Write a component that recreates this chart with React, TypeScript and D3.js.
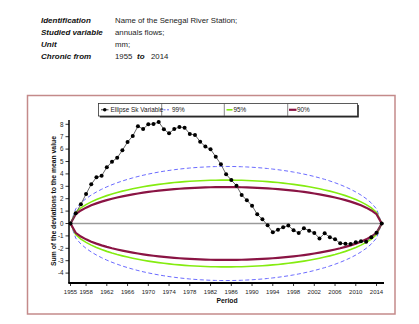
import React from "react";
import * as d3 from "d3";

const headerLabels = ["Identification", "Studied variable", "Unit", "Chronic from"];
const headerValues = ["Name of the Senegal River Station;", "annuals flows;", "mm;"];
const chronicStart = "1955";
const chronicEnd = "2014";

const years = d3.range(1955, 2016);
const cumDev = [
  0, 0.82, 1.55, 2.38, 3.16, 3.73, 3.85, 4.53, 4.98, 5.3,
  5.9, 6.57, 7.06, 7.84, 7.62, 8.0, 8.02, 8.19, 7.6, 7.27,
  7.62, 7.78, 7.73, 7.22, 7.14, 6.6, 6.2, 5.98, 5.39, 4.77,
  3.97, 3.5, 3.05, 2.3, 1.87, 1.44, 0.74, 0.34, -0.15, -0.71,
  -0.5, -0.31, -0.17, -0.55, -0.77, -0.38, -0.58, -0.76, -1.2, -0.79,
  -1.11, -1.27, -1.6, -1.63, -1.65, -1.52, -1.44, -1.47, -1.11, -0.74,
  0,
];

// Bois ellipse parameters
const ellipseLevels = ["99%", "95%", "90%"];
const ellipseZ = [2.576, 1.96, 1.645];
const ellipseSigma = 1.786;
const ellipseColors = ["#6b6bff", "#84ec10", "#8a1444"];

const xTickYears = [1955, 1958, 1962, 1966, 1970, 1974, 1978, 1982, 1986, 1990, 1994, 1998, 2002, 2006, 2010, 2014];
const yTicks = [8, 7, 6, 5, 4, 3, 2, 1, 0, -1, -2, -3, -4];

const FONT = "'Liberation Sans', Arial, sans-serif";

export default function App() {
  const x = d3.scaleLinear().domain([1954.71, 2015.44]).range([69, 384]);
  const y = d3.scaleLinear().domain([0, 8]).range([223.5, 124.3]);
  const yTop = 120;
  const yBottom = 283;

  const n = years.length - 1;
  const line = d3
    .line<[number, number]>()
    .x((d) => x(d[0]))
    .y((d) => y(d[1]));

  const mainPts: [number, number][] = years.map((yr, i) => [yr, cumDev[i]]);

  const ellipse = (z: number, sign: number): [number, number][] =>
    years.map((yr, k) => [yr, (sign * z * ellipseSigma * Math.sqrt(k * (n - k))) / (n / 2)]);

  const dashes = ["4,2.5", null, null];
  const widths = [1, 1.6, 2.2];

  const legendItems = [
    { x0: 101, x1: 108.5, tx: 110.5, label: "Ellipse Sk Variable" },
    { x0: 163.5, x1: 170.5, tx: 172, label: ellipseLevels[0] },
    { x0: 226.5, x1: 232.5, tx: 233.5, label: ellipseLevels[1] },
    { x0: 289, x1: 296.5, tx: 297, label: ellipseLevels[2] },
  ];
  const dividers = [161.7, 224.3, 287.7];

  return (
    <svg
      width={419}
      height={324}
      style={{ position: "absolute", left: 0, top: 0, background: "#fff" }}
      fontFamily={FONT}
    >
      <rect x={0} y={0} width={419} height={324} fill="#fff" />
      {/* header */}
      {headerLabels.map((t, i) => (
        <text
          key={t}
          x={41}
          y={[22.5, 35, 46.5, 59][i]}
          fontSize={8}
          fontWeight="bold"
          fontStyle="italic"
          fill="#111"
        >
          {t}
        </text>
      ))}
      {headerValues.map((t, i) => (
        <text key={t} x={115} y={[22.5, 35, 46.5][i]} fontSize={7.8} fill="#222">
          {t}
        </text>
      ))}
      <text x={115} y={59} fontSize={7.8} fill="#222">
        {chronicStart}
      </text>
      <text x={137} y={59} fontSize={8} fontWeight="bold" fontStyle="italic" fill="#111">
        to
      </text>
      <text x={151} y={59} fontSize={7.8} fill="#222">
        {chronicEnd}
      </text>

      {/* chart frame */}
      <rect x={27.5} y={95.5} width={367.5} height={218.5} fill="#fff" stroke="#c48a8a" strokeWidth={1.5} />

      {/* zero line */}
      <line x1={69} x2={384} y1={y(0)} y2={y(0)} stroke="#9a9a9a" strokeWidth={1.5} />

      {/* ellipses */}
      {ellipseZ.map((z, i) =>
        [1, -1].map((s) => (
          <path
            key={`${i}-${s}`}
            d={line(ellipse(z, s)) || ""}
            fill="none"
            stroke={ellipseColors[i]}
            strokeWidth={widths[i]}
            strokeDasharray={dashes[i] || undefined}
          />
        ))
      )}

      {/* main series */}
      <path d={line(mainPts) || ""} fill="none" stroke="#555" strokeWidth={0.9} />
      {mainPts.map((p, i) => (
        <circle key={i} cx={x(p[0])} cy={y(p[1])} r={2} fill="#000" />
      ))}

      {/* axes */}
      <line x1={69} x2={69} y1={yTop} y2={yBottom} stroke="#000" strokeWidth={1.5} />
      <line x1={68.3} x2={384} y1={yBottom} y2={yBottom} stroke="#000" strokeWidth={1.8} />
      {yTicks.map((t) => (
        <g key={t}>
          <line x1={65.5} x2={69} y1={y(t)} y2={y(t)} stroke="#000" strokeWidth={0.8} />
          <text x={63.5} y={y(t) + 2.2} fontSize={6.3} textAnchor="end" fill="#222">
            {t}
          </text>
        </g>
      ))}
      {xTickYears.map((t) => (
        <g key={t}>
          <line x1={x(t)} x2={x(t)} y1={yBottom} y2={yBottom + 3} stroke="#000" strokeWidth={0.8} />
          <text x={x(t)} y={294} fontSize={6} textAnchor="middle" fill="#222">
            {t}
          </text>
        </g>
      ))}
      <text x={227} y={303} fontSize={6.8} fontWeight="bold" textAnchor="middle" fill="#111">
        Period
      </text>
      <text
        transform={`translate(55.5, 201) rotate(-90)`}
        fontSize={6.8}
        fontWeight="bold"
        textAnchor="middle"
        fill="#111"
      >
        Sum of the deviations to the mean value
      </text>

      {/* legend */}
      <rect x={99.8} y={105} width={259} height={12.5} fill="#222" />
      <rect x={98.5} y={103.5} width={259} height={12.5} fill="#fff" stroke="#333" strokeWidth={0.8} />
      {dividers.map((d) => (
        <line key={d} x1={d} x2={d} y1={103.5} y2={116} stroke="#555" strokeWidth={0.7} />
      ))}
      {legendItems.map((it, i) => (
        <g key={it.label}>
          <line
            x1={it.x0}
            x2={it.x1}
            y1={109.8}
            y2={109.8}
            stroke={i === 0 ? "#333" : ellipseColors[i - 1]}
            strokeWidth={i === 0 ? 0.9 : widths[i - 1]}
            strokeDasharray={i === 1 ? "2,1.5" : undefined}
          />
          {i === 0 && <circle cx={(it.x0 + it.x1) / 2} cy={109.8} r={1.8} fill="#000" />}
          <text x={it.tx} y={112.2} fontSize={6.4} fill="#222">
            {it.label}
          </text>
        </g>
      ))}
    </svg>
  );
}
